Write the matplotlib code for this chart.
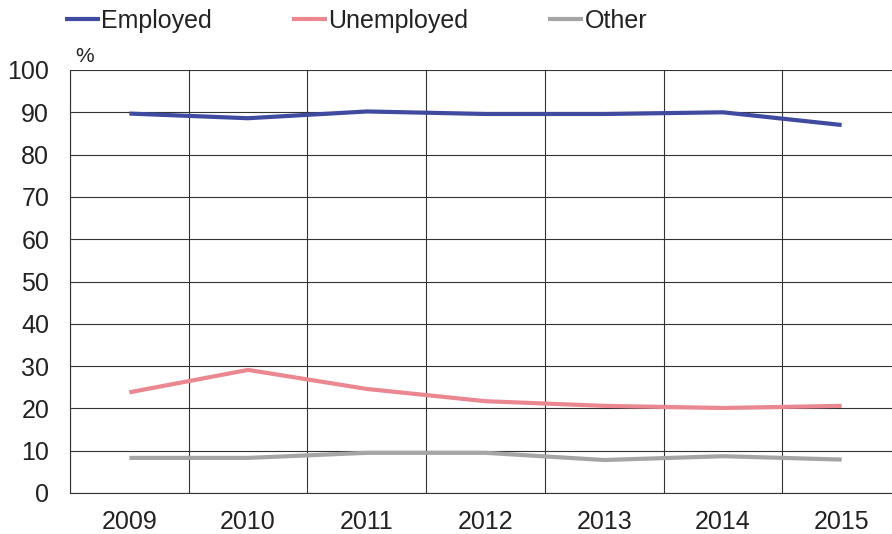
import matplotlib
matplotlib.use("Agg")
import matplotlib.pyplot as plt
from matplotlib.ticker import MultipleLocator, FixedLocator

plt.rcParams['font.family'] = ['Liberation Sans', 'DejaVu Sans']

years = ["2009", "2010", "2011", "2012", "2013", "2014", "2015"]
employed = [89.7, 88.6, 90.2, 89.6, 89.6, 90.0, 87.0]
unemployed = [23.8, 29.1, 24.6, 21.7, 20.6, 20.1, 20.6]
other = [8.3, 8.3, 9.5, 9.5, 7.8, 8.7, 7.9]
series_names = ["Employed", "Unemployed", "Other"]
colors = ["#3f4aa0", "#ea8790", "#a5a5a5"]

fig = plt.figure(figsize=(8.92, 5.34), dpi=100)
ax = fig.add_axes([70/892, 1-493/534, 831/892, 423/534])

x = list(range(len(years)))
for vals, name, c in zip([employed, unemployed, other], series_names, colors):
    ax.plot(x, vals, color=c, lw=3.0, label=name, solid_capstyle='butt', zorder=3)

ax.set_xlim(-0.5, len(years) - 0.5)
ax.set_ylim(0, 100)
ax.yaxis.set_major_locator(MultipleLocator(10))
ax.set_xticks(x)
ax.set_xticklabels(years)
ax.xaxis.set_minor_locator(FixedLocator([i - 0.5 for i in range(len(years) + 1)]))
ax.grid(which='minor', axis='x', color='#333333', lw=0.8)
ax.grid(which='major', axis='y', color='#333333', lw=0.8)
ax.set_axisbelow(True)
for s in ['top', 'right']:
    ax.spines[s].set_visible(False)
for s in ['left', 'bottom']:
    ax.spines[s].set_color('#333333')
    ax.spines[s].set_linewidth(0.8)
ax.tick_params(which='both', length=0)
ax.tick_params(axis='y', pad=15, labelsize=18, colors='#222222')
ax.tick_params(axis='x', pad=12, labelsize=18, colors='#222222')

fig.text(75/892, 1-57/534, "%", fontsize=15, color='#222222', va='center', ha='left')

fig.legend(loc='center left', bbox_to_anchor=(65/892, 1-21/534), ncol=3, frameon=False,
           fontsize=18, handlelength=1.4, handletextpad=0.05, columnspacing=3.2,
           borderaxespad=0, borderpad=0, labelcolor='#222222')

fig.savefig("out.png", dpi=100)
